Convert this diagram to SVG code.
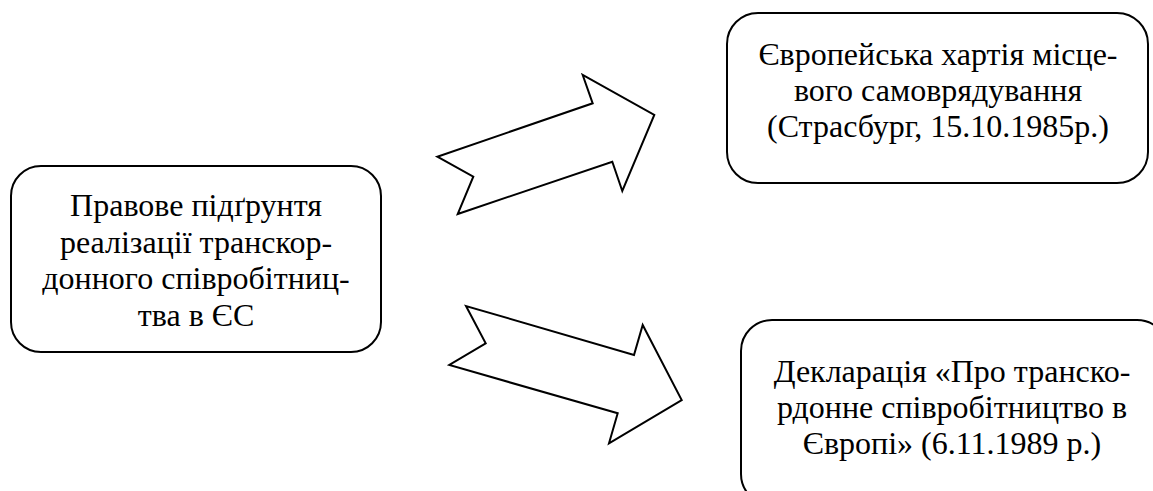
<svg xmlns="http://www.w3.org/2000/svg" width="1153" height="491" viewBox="0 0 1153 491">
<style>
.box{fill:#fff;stroke:#000;stroke-width:2}
.arr{fill:#fff;stroke:#000;stroke-width:2;stroke-linejoin:miter}
text.t{font-family:"Times New Roman","Liberation Serif",Tinos,"DejaVu Serif","Noto Serif",Times,serif;font-size:32px;fill:#000;text-anchor:middle}
</style>
<rect width="1153" height="491" fill="#fff"/>
<g id="connectors">
<polygon class="arr" points="437.3,156.7 473.3,176.7 457.7,214 612.3,161.7 622.3,191 654.3,115 582.7,75 592.7,103.3"/>
<polygon class="arr" points="466,306 485.7,343.3 449.3,365 617.7,413.3 609,443.3 681.7,400 642.7,325 634,355"/>
</g>
<g id="node-source">
<rect class="box" x="11" y="166" width="370" height="186" rx="30" ry="30"/>
<text class="t" x="196" y="216">Правове підґрунтя</text>
<text class="t" x="196" y="253">реалізації транскор-</text>
<text class="t" x="196" y="289">донного співробітниц-</text>
<text class="t" x="196" y="326">тва в ЄС</text>
</g>
<g id="node-charter">
<rect class="box" x="727" y="13" width="421" height="170" rx="31" ry="31"/>
<text class="t" x="938" y="65">Європейська хартія місце-</text>
<text class="t" x="938" y="101">вого самоврядування</text>
<text class="t" x="938" y="137">(Страсбург, 15.10.1985р.)</text>
</g>
<g id="node-declaration">
<rect class="box" x="741" y="320" width="427" height="185" rx="31" ry="31"/>
<text class="t" x="952" y="382">Декларація «Про транско-</text>
<text class="t" x="952" y="418">рдонне співробітництво в</text>
<text class="t" x="952" y="454">Європі» (6.11.1989 р.)</text>
</g>
</svg>
